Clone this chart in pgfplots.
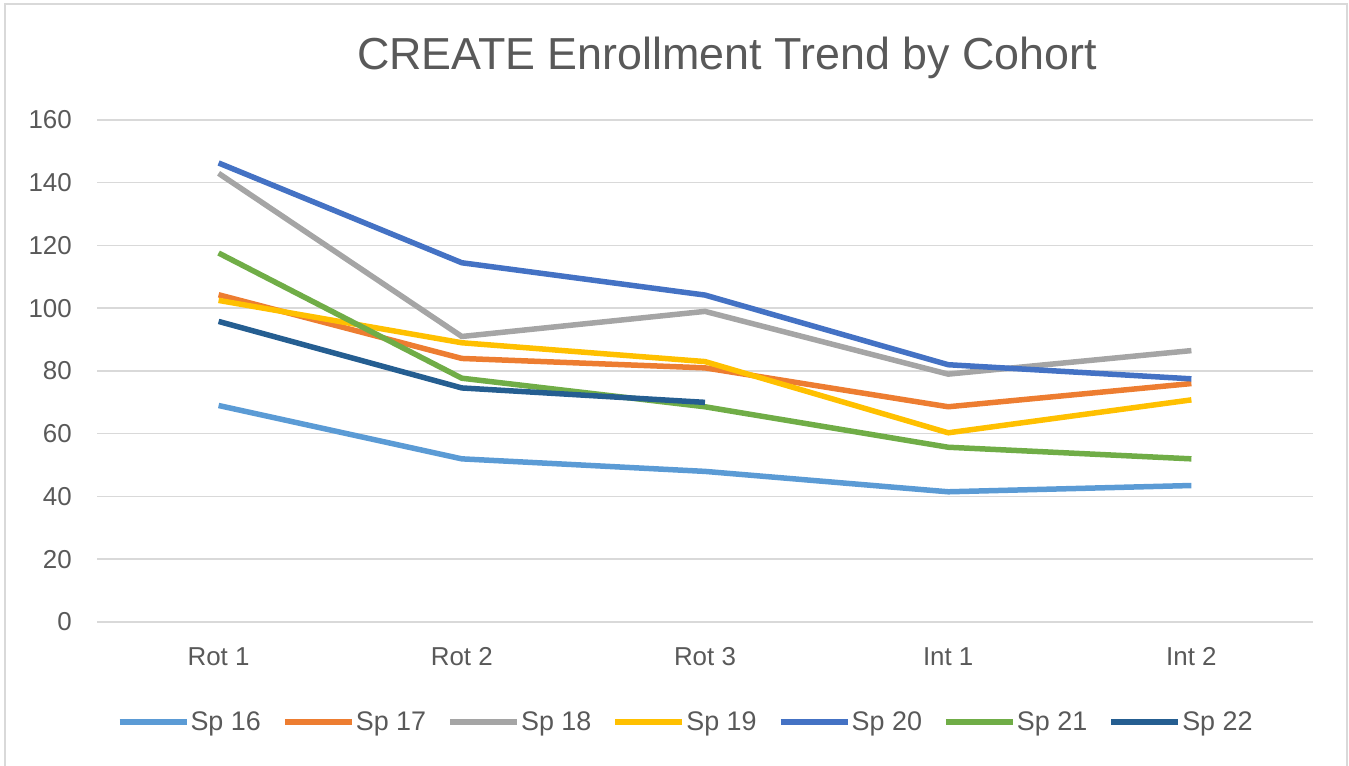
\documentclass[border=0pt]{standalone}
\usepackage{fontspec}
\setmainfont{Liberation Sans}
\usepackage{pgfplots}
\pgfplotsset{compat=1.18}

\definecolor{c16}{HTML}{5B9BD5}
\definecolor{c17}{HTML}{ED7D31}
\definecolor{c18}{HTML}{A5A5A5}
\definecolor{c19}{HTML}{FFC000}
\definecolor{c20}{HTML}{4472C4}
\definecolor{c21}{HTML}{70AD47}
\definecolor{c22}{HTML}{255E91}
\definecolor{txt}{HTML}{595959}
\definecolor{gridc}{HTML}{D9D9D9}

% positions in pixels of the reference, y counted upwards from the bottom (766 high)
\begin{document}
\begin{tikzpicture}
\useasboundingbox (0bp,0bp) rectangle (1349bp,766bp);
\draw[gridc, line width=2bp] (5bp,-4bp) -- (5bp,762bp) -- (1347bp,762bp) -- (1347bp,-4bp);
\node[anchor=base, text=txt, font=\fontsize{45}{52}\selectfont, inner sep=0pt] at (727bp,696bp) {CREATE Enrollment Trend by Cohort};
\begin{axis}[
    at={(97bp,144bp)}, anchor=south west,
    scale only axis, width=1216bp, height=502bp,
    xmin=-0.5, xmax=4.5, ymin=0, ymax=160,
    xtick={0,1,2,3,4},
    xticklabels={Rot 1,Rot 2,Rot 3,Int 1,Int 2},
    ytick={0,20,...,160},
    axis line style={draw=none},
    tick style={draw=none},
    ymajorgrids,
    grid style={gridc, line width=1.5bp},
    /pgf/number format/assume math mode=true,
    ticklabel style={text=txt, font=\fontsize{26}{30}\selectfont, inner sep=0pt},
    yticklabel style={anchor=east, xshift=-25bp},
    xticklabel style={anchor=base, yshift=-43bp},
    legend columns=7,
    legend style={draw=none, fill=none, at={(0.4836,-0.199)}, anchor=center,
        font=\fontsize{27}{30}\selectfont, text=txt, nodes={inner sep=1bp},
        /tikz/every even column/.append style={column sep=20bp}},
    legend image code/.code={\draw[#1, line width=6bp] (0bp,0bp) -- (67bp,0bp);},
    every axis plot/.append style={line width=5.5bp, line join=round},
]
\addplot[c16] coordinates {(0,69) (1,52) (2,48) (3,41.5) (4,43.5)};
\addlegendentry{Sp 16}
\addplot[c17] coordinates {(0,104.3) (1,84) (2,81) (3,68.6) (4,76)};
\addlegendentry{Sp 17}
\addplot[c18] coordinates {(0,143) (1,91) (2,99) (3,79) (4,86.5)};
\addlegendentry{Sp 18}
\addplot[c19] coordinates {(0,102.5) (1,89) (2,83) (3,60.3) (4,70.8)};
\addlegendentry{Sp 19}
\addplot[c20] coordinates {(0,146.3) (1,114.5) (2,104.2) (3,82) (4,77.5)};
\addlegendentry{Sp 20}
\addplot[c21] coordinates {(0,117.6) (1,77.7) (2,68.6) (3,55.7) (4,52)};
\addlegendentry{Sp 21}
\addplot[c22] coordinates {(0,95.8) (1,74.6) (2,70)};
\addlegendentry{Sp 22}
\end{axis}
\end{tikzpicture}
\end{document}
